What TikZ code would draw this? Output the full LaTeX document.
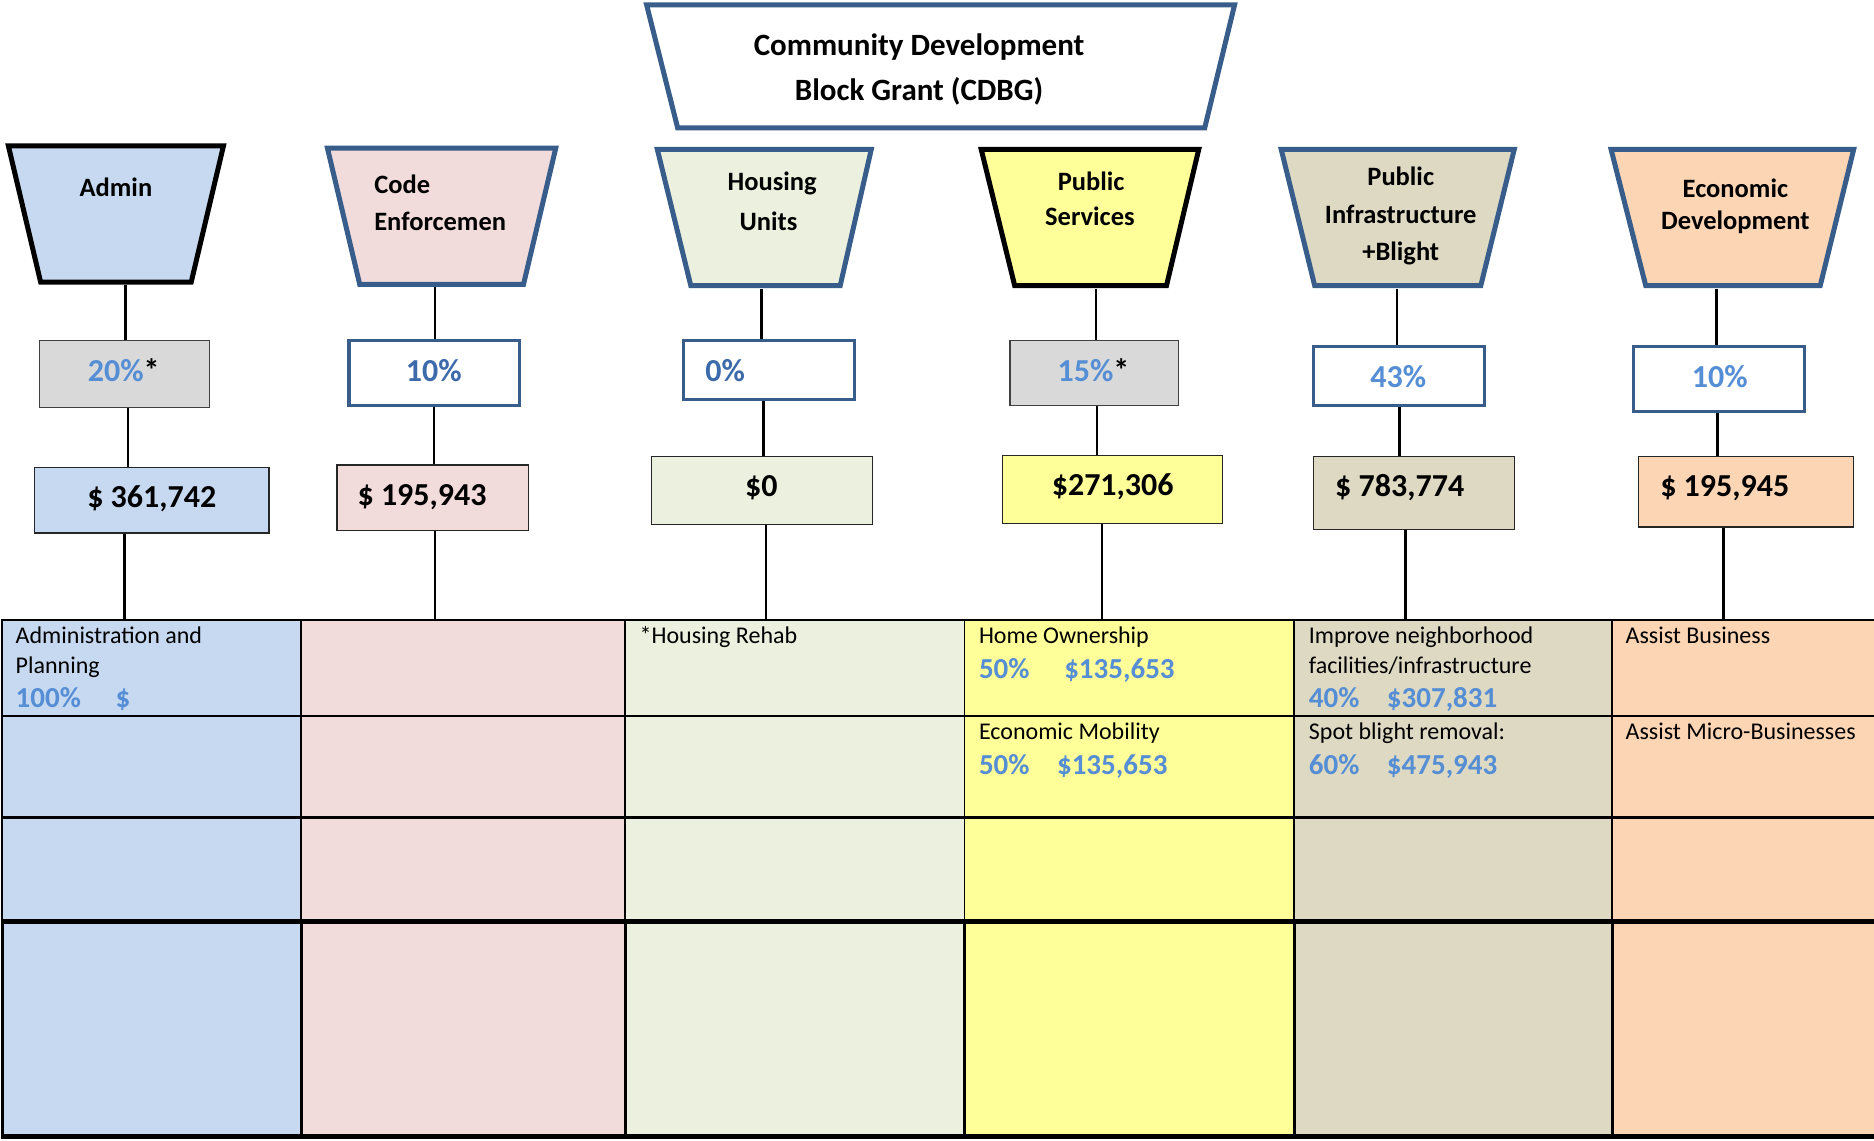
\documentclass[tikz,border=0pt]{standalone}
\usepackage{fontspec}
\setmainfont{Carlito}
\usetikzlibrary{fit}
\definecolor{bordblue}{HTML}{385D8A}
\definecolor{txtblue}{HTML}{558ED5}
\definecolor{txtdblue}{HTML}{3D6AAA}
\definecolor{fadmin}{HTML}{C6D9F1}
\definecolor{fcode}{HTML}{F2DCDB}
\definecolor{fhous}{HTML}{EBF1DE}
\definecolor{fpub}{HTML}{FFFF99}
\definecolor{finfra}{HTML}{DDD9C3}
\definecolor{fecon}{HTML}{FCD5B5}
\definecolor{fgray}{HTML}{D9D9D9}
\tikzset{
  trapblack/.style={draw=black, line width=5pt},
  trapblue/.style={draw=bordblue, line width=5pt},
  pctblue/.style={draw=bordblue, line width=3.2pt, fill=white, inner sep=0pt},
  pctgray/.style={draw=black!75, line width=1.3pt, fill=fgray, inner sep=0pt},
  amtbox/.style={draw=black!85, line width=1.3pt, inner sep=0pt},
  conn/.style={draw=black, line width=2.6pt},
  ttl/.style={font=\fontsize{31}{45}\selectfont\bfseries, anchor=base, inner sep=0pt},
  cat/.style={font=\fontsize{26.5}{32}\selectfont\bfseries, anchor=base, inner sep=0pt},
  big/.style={font=\fontsize{32}{38}\selectfont\bfseries, anchor=base, inner sep=0pt},
  celltxt/.style={font=\fontsize{24}{30}\selectfont, anchor=base west, inner sep=0pt},
  cellnum/.style={font=\fontsize{29}{34}\selectfont\bfseries, text=txtblue, anchor=base west, inner sep=0pt},
}
\begin{document}
\begin{tikzpicture}[x=1.1952pt, y=-1.1952pt]
\useasboundingbox (0,0) rectangle (1568,954);

% ---------- table background ----------
\fill[fadmin] (2,519) rectangle (252,951);
\fill[fcode]  (252,519) rectangle (523,951);
\fill[fhous]  (523,519) rectangle (807,951);
\fill[fpub]   (807,519) rectangle (1083,951);
\fill[finfra] (1083,519) rectangle (1349,951);
\fill[fecon]  (1349,519) rectangle (1568,951);
\foreach \xx in {2,252,523,807,1083,1349} {
  \draw[line width=1.8pt] (\xx,519) -- (\xx,771);
  \draw[line width=3pt] (\xx,771) -- (\xx,951);
}
\draw[line width=2pt] (1,519) -- (1568,519);
\draw[line width=2.5pt] (1,599) -- (1568,599);
\draw[line width=2.5pt] (1,684) -- (1568,684);
\draw[line width=4.5pt] (1,771) -- (1568,771);
\draw[line width=4.5pt] (1,951) -- (1568,951);
\coordinate (tabtop) at (0,519);

% ---------- title ----------
\draw[trapblue, fill=white] (541,4) -- (1033,4) -- (1008,107) -- (567,107) -- cycle;
\node[ttl] (title1) at (769,46.4) {Community Development};
\node[ttl] (title2) at (769,84.4) {Block Grant (CDBG)};

% ---------- category trapezoids ----------
\draw[trapblack, fill=fadmin] (7,122) -- (187,122) -- (160,236) -- (34,236) -- cycle;
\draw[trapblue, fill=fcode] (274,124) -- (465,124) -- (438,238) -- (301,238) -- cycle;
\draw[trapblue, fill=fhous] (550,125) -- (729,125) -- (703,239) -- (578,239) -- cycle;
\draw[trapblack, fill=fpub] (821,125) -- (1003,125) -- (976,239) -- (849,239) -- cycle;
\draw[trapblue, fill=finfra] (1072,125) -- (1267,125) -- (1239,239) -- (1100,239) -- cycle;
\draw[trapblue, fill=fecon] (1348,125) -- (1551,125) -- (1523,239) -- (1377,239) -- cycle;
\coordinate (k1) at (105,238.5);
\coordinate (k2) at (364,240.5);
\coordinate (k3) at (637,241.5);
\coordinate (k4) at (917,241.5);
\coordinate (k5) at (1169,241.5);
\coordinate (k6) at (1436,241.5);

\node[cat] (c1) at (97,164) {Admin};
\node[cat, anchor=base west] (c2a) at (313,162) {Code};
\node[cat, anchor=base west] (c2b) at (313,193) {Enforcemen};
\node[cat] (c3a) at (646,159) {Housing};
\node[cat] (c3b) at (643,193) {Units};
\node[cat] (c4a) at (913,159) {Public};
\node[cat] (c4b) at (912,189) {Services};
\node[cat] (c5a) at (1172,155) {Public};
\node[cat] (c5b) at (1172,187) {Infrastructure};
\node[cat] (c5c) at (1172,218) {+Blight};
\node[cat] (c6a) at (1452,165) {Economic};
\node[cat] (c6b) at (1452,192) {Development};

% ---------- percentage boxes ----------
\node[pctgray, fit={(33,285)(175,341)}] (p1) {};
\node[pctblue, fit={(292,285)(435,339)}] (p2) {};
\node[pctblue, fit={(572,285)(715,334)}] (p3) {};
\node[pctgray, fit={(845,285)(986,339)}] (p4) {};
\node[pctblue, fit={(1099,290)(1242,339)}] (p5) {};
\node[pctblue, fit={(1367,290)(1510,344)}] (p6) {};
\node[big] (pt1) at (103.5,319.6) {\textcolor{txtblue}{20\%}*};
\node[big, text=txtdblue] (pt2) at (363,319.6) {10\%};
\node[big, text=txtdblue, anchor=base west] (pt3) at (590,319.6) {0\%};
\node[big] (pt4) at (915,319.6) {\textcolor{txtblue}{15\%}*};
\node[big, text=txtblue] (pt5) at (1170,324.6) {43\%};
\node[big, text=txtblue] (pt6) at (1439,324.6) {10\%};

% ---------- amount boxes ----------
\node[amtbox, fill=fadmin, fit={(29,391)(225,446)}] (d1) {};
\node[amtbox, fill=fcode, fit={(282,389)(442,444)}] (d2) {};
\node[amtbox, fill=fhous, fit={(545,382)(730,439)}] (d3) {};
\node[amtbox, fill=fpub, fit={(839,381)(1023,438)}] (d4) {};
\node[amtbox, fill=finfra, fit={(1099,382)(1267,443)}] (d5) {};
\node[amtbox, fill=fecon, fit={(1371,382)(1551,441)}] (d6) {};
\node[big] (dt1) at (127,424.6) {\$ 361,742};
\node[big, anchor=base west] (dt2) at (299,422.6) {\$ 195,943};
\node[big] (dt3) at (637,415.6) {\$0};
\node[big] (dt4) at (931,414.6) {\$271,306};
\node[big, anchor=base west] (dt5) at (1117,415.6) {\$ 783,774};
\node[big, anchor=base west] (dt6) at (1389,415.6) {\$ 195,945};

% ---------- connectors ----------
\coordinate (m1) at (107,0);  \coordinate (n1) at (104,0);
\coordinate (m2) at (363,0);  \coordinate (n2) at (364,0);
\coordinate (m3) at (639,0);  \coordinate (n3) at (641,0);
\coordinate (m4) at (918,0);  \coordinate (n4) at (922,0);
\coordinate (m5) at (1171,0); \coordinate (n5) at (1176,0);
\coordinate (m6) at (1437,0); \coordinate (n6) at (1442,0);
\foreach \i in {1,...,6} {
  \draw[conn] (k\i) -- (k\i |- p\i.north);
  \draw[conn] (p\i.south -| m\i) -- (d\i.north -| m\i);
  \draw[conn] (d\i.south -| n\i) -- (tabtop -| n\i);
}

% ---------- table text ----------
\node[celltxt] (a1) at (13,538.5) {Administration and};
\node[celltxt] (a2) at (13,563.5) {Planning};
\node[cellnum] (a3) at (13,592) {100\%\hspace{34.7pt}\$};
\node[celltxt] (h1) at (535,538.5) {*Housing Rehab};
\node[celltxt] (s1) at (819,538.5) {Home Ownership};
\node[cellnum] (s2) at (819,568) {50\%\hspace{34.7pt}\$135,653};
\node[celltxt] (s3) at (819,618.5) {Economic Mobility};
\node[cellnum] (s4) at (819,648) {50\%\hspace{27.5pt}\$135,653};
\node[celltxt] (i1) at (1095,538.5) {Improve neighborhood};
\node[celltxt] (i2) at (1095,563.5) {facilities/infrastructure};
\node[cellnum] (i3) at (1095,592) {40\%\hspace{27.5pt}\$307,831};
\node[celltxt] (i4) at (1095,618.5) {Spot blight removal:};
\node[cellnum] (i5) at (1095,648) {60\%\hspace{27.5pt}\$475,943};
\node[celltxt] (e1) at (1360,538.5) {Assist Business};
\node[celltxt] (e2) at (1360,618.5) {Assist Micro-Businesses};
\end{tikzpicture}
\end{document}
